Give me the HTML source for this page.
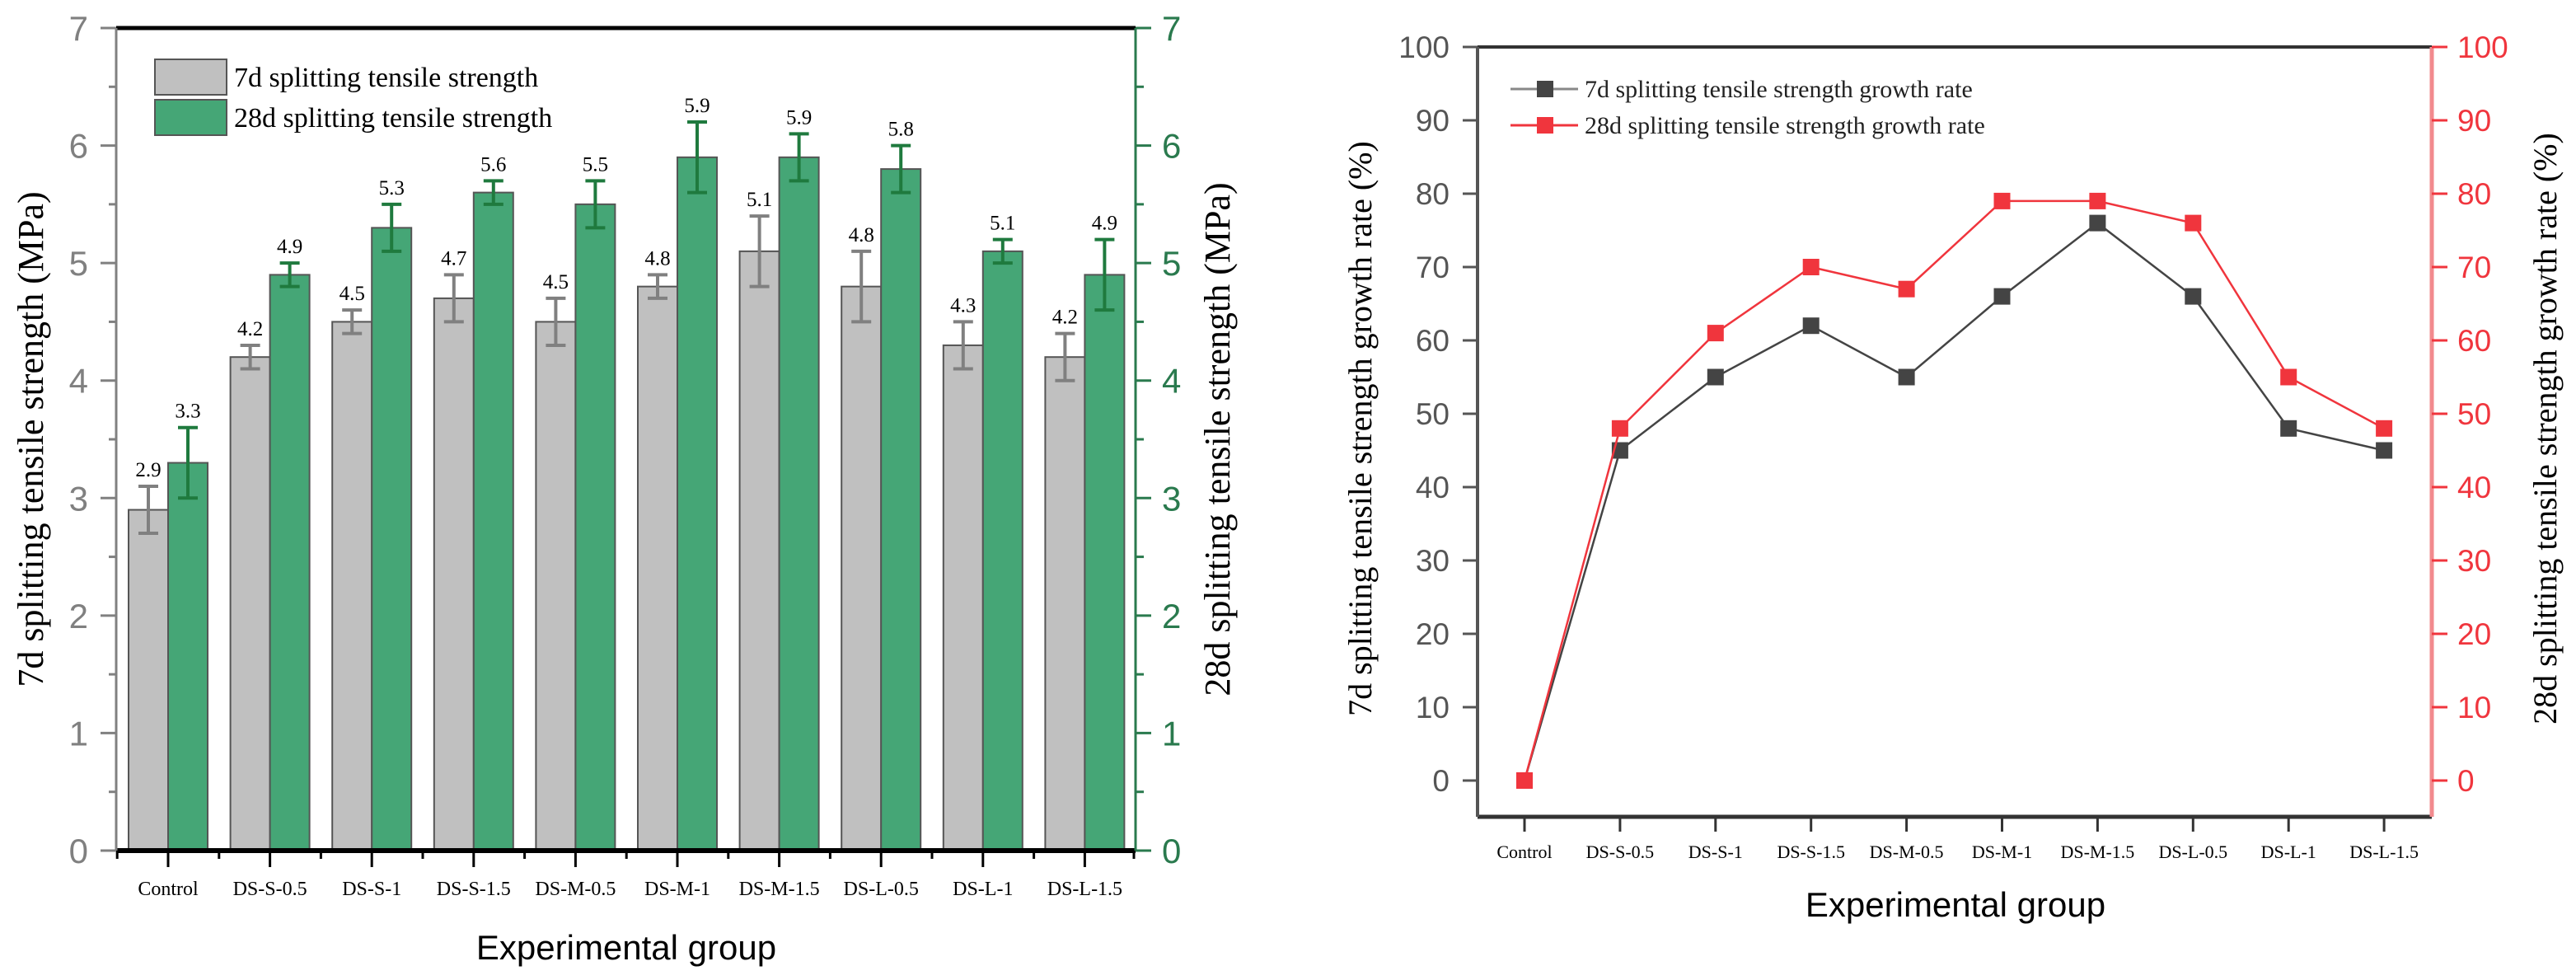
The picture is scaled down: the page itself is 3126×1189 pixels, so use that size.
<!DOCTYPE html>
<html><head><meta charset="utf-8"><style>
body{margin:0;background:#fff;width:3126px;height:1189px;overflow:hidden}
svg{display:block}
.tm{font-family:"Liberation Serif",serif}
.ar{font-family:"Liberation Sans",sans-serif}
</style></head><body>
<svg id="chart" width="3126" height="1189" viewBox="0 0 3126 1189" xmlns="http://www.w3.org/2000/svg">
<g id="left"></g>
<g id="right"></g>
</svg>
<script>
const categories=["Control","DS-S-0.5","DS-S-1","DS-S-1.5","DS-M-0.5","DS-M-1","DS-M-1.5","DS-L-0.5","DS-L-1","DS-L-1.5"];
const strength7=[2.9,4.2,4.5,4.7,4.5,4.8,5.1,4.8,4.3,4.2];
const err7=[0.2,0.1,0.1,0.2,0.2,0.1,0.3,0.3,0.2,0.2];
const strength28=[3.3,4.9,5.3,5.6,5.5,5.9,5.9,5.8,5.1,4.9];
const err28=[0.3,0.1,0.2,0.1,0.2,0.3,0.2,0.2,0.1,0.3];
const leftTicks=[0,1,2,3,4,5,6,7];
const growth7=[0,45,55,62,55,66,76,66,48,45];
const growth28=[0,48,61,70,67,79,79,76,55,48];
const rightTicks=[0,10,20,30,40,50,60,70,80,90,100];

const NS="http://www.w3.org/2000/svg";
function mk(p,t,a,txt){const e=document.createElementNS(NS,t);for(const k in a)e.setAttribute(k,a[k]);if(txt!==undefined)e.textContent=txt;p.appendChild(e);return e;}

// ---------- Left bar chart ----------
const L=document.getElementById('left');
const lx0=141,lx1=1378,ly0=1032,ly1=34;
const ly=v=>ly0-(v/7)*(ly0-ly1);
const step=123.6;
const lcx=i=>204+i*step;
const bw=48;
for(let i=0;i<categories.length;i++){
  const c=lcx(i);
  let r=mk(L,'rect',{x:c-bw,y:ly(strength7[i]),width:bw,height:ly0-ly(strength7[i]),fill:'#c0c0c0',stroke:'#555','stroke-width':2});
  
  
  r=mk(L,'rect',{x:c,y:ly(strength28[i]),width:bw,height:ly0-ly(strength28[i]),fill:'#45a676',stroke:'#555','stroke-width':2});
  
  
  const g7=c-bw/2,g28=c+bw/2;
  [[g7,strength7[i],err7[i],'#808080'],[g28,strength28[i],err28[i],'#1f7a3e']].forEach(([x,v,e,col])=>{
    const eb=mk(L,'path',{d:`M${x},${ly(v+e)}V${ly(v-e)}M${x-12},${ly(v+e)}h24M${x-12},${ly(v-e)}h24`,stroke:col,'stroke-width':4,fill:'none'});
    
    
    const t=mk(L,'text',{x:x,y:ly(v+e)-12,'text-anchor':'middle','font-size':25,class:'tm'},v.toFixed(1));
    
    
  });
  const xl=mk(L,'text',{x:c,y:1086,'text-anchor':'middle','font-size':24,class:'tm'},categories[i]);
  
  
  mk(L,'line',{x1:c,y1:ly0,x2:c,y2:ly0+20,stroke:'#000','stroke-width':3});
  mk(L,'line',{x1:c-step/2,y1:ly0,x2:c-step/2,y2:ly0+10,stroke:'#000','stroke-width':3});
}
mk(L,'line',{x1:lx1-2,y1:ly0,x2:lx1-2,y2:ly0+10,stroke:'#000','stroke-width':3});
mk(L,'line',{x1:lx0,y1:ly1,x2:lx1,y2:ly1,stroke:'#000','stroke-width':5});
mk(L,'line',{x1:lx0,y1:ly0,x2:lx1,y2:ly0,stroke:'#000','stroke-width':6});
mk(L,'line',{x1:lx0,y1:ly1,x2:lx0,y2:ly0,stroke:'#808080','stroke-width':3});
mk(L,'line',{x1:lx1,y1:ly1,x2:lx1,y2:ly0,stroke:'#2a7a4e','stroke-width':3});
leftTicks.forEach(v=>{
  mk(L,'line',{x1:lx0-19,y1:ly(v),x2:lx0,y2:ly(v),stroke:'#808080','stroke-width':3});
  if(v<7)mk(L,'line',{x1:lx0-9,y1:ly(v+0.5),x2:lx0,y2:ly(v+0.5),stroke:'#808080','stroke-width':3});
  mk(L,'line',{x1:lx1,y1:ly(v),x2:lx1+19,y2:ly(v),stroke:'#2a7a4e','stroke-width':3});
  if(v<7)mk(L,'line',{x1:lx1,y1:ly(v+0.5),x2:lx1+10,y2:ly(v+0.5),stroke:'#2a7a4e','stroke-width':3});
  const a=mk(L,'text',{x:107,y:ly(v)+15,'text-anchor':'end','font-size':42,fill:'#808080',class:'ar'},v);
  
  
  const b=mk(L,'text',{x:1410,y:ly(v)+15,'text-anchor':'start','font-size':42,fill:'#2a7a4e',class:'ar'},v);
  
  
});
let t=mk(L,'text',{transform:'translate(52,533) rotate(-90)','text-anchor':'middle','font-size':44,class:'tm'},'7d splitting tensile strength (MPa)');

t=mk(L,'text',{transform:'translate(1492,533) rotate(-90)','text-anchor':'middle','font-size':44,class:'tm'},'28d splitting tensile strength (MPa)');

t=mk(L,'text',{x:760,y:1164,'text-anchor':'middle','font-size':42,class:'ar'},'Experimental group');

let lg=mk(L,'g',{});

mk(lg,'rect',{x:188,y:72,width:87,height:43,fill:'#c0c0c0',stroke:'#555','stroke-width':2});
mk(lg,'rect',{x:188,y:121,width:87,height:43,fill:'#45a676',stroke:'#555','stroke-width':2});
mk(lg,'text',{x:284,y:105,'font-size':34,class:'tm'},'7d splitting tensile strength');
mk(lg,'text',{x:284,y:154,'font-size':34,class:'tm'},'28d splitting tensile strength');

// ---------- Right line chart ----------
const R=document.getElementById('right');
const rx0=1793,rx1=2951,ryTop=57,ryBot=991;
const ry=v=>947-(v/100)*(947-57);
const rcx=i=>1850+i*115.9;
mk(R,'line',{x1:rx0,y1:ryTop,x2:rx1,y2:ryTop,stroke:'#333','stroke-width':4});
mk(R,'line',{x1:rx0,y1:ryBot,x2:rx1,y2:ryBot,stroke:'#333','stroke-width':5});
mk(R,'line',{x1:rx0,y1:ryTop,x2:rx0,y2:ryBot,stroke:'#555','stroke-width':4});
mk(R,'line',{x1:rx1,y1:ryTop,x2:rx1,y2:ryBot,stroke:'#f28a8d','stroke-width':5});
rightTicks.forEach(v=>{
  mk(R,'line',{x1:rx0-18,y1:ry(v),x2:rx0,y2:ry(v),stroke:'#555','stroke-width':3});
  mk(R,'line',{x1:rx1,y1:ry(v),x2:rx1+19,y2:ry(v),stroke:'#f0353d','stroke-width':3});
  let a=mk(R,'text',{x:1759,y:ry(v)+13,'text-anchor':'end','font-size':37,fill:'#555',class:'ar'},v);
  
  a=mk(R,'text',{x:2982,y:ry(v)+13,'text-anchor':'start','font-size':37,fill:'#f0353d',class:'ar'},v);
  
});
categories.forEach((c,i)=>{
  mk(R,'line',{x1:rcx(i),y1:ryBot,x2:rcx(i),y2:ryBot+18,stroke:'#333','stroke-width':3});
  const a=mk(R,'text',{x:rcx(i),y:1041,'text-anchor':'middle','font-size':22,class:'tm'},c);
  
});
function series(vals,col,name){
  const p=mk(R,'polyline',{points:vals.map((v,i)=>rcx(i)+','+ry(v)).join(' '),fill:'none',stroke:col,'stroke-width':2.5});
  
  vals.forEach((v,i)=>{
    const m=mk(R,'rect',{x:rcx(i)-10,y:ry(v)-10,width:20,height:20,fill:col});
    
  });
}
series(growth7,'#444','growth-7d');
series(growth28,'#f0353d','growth-28d');
t=mk(R,'text',{transform:'translate(1664,520) rotate(-90)','text-anchor':'middle','font-size':40,class:'tm'},'7d splitting tensile strength growth rate (%)');

t=mk(R,'text',{transform:'translate(3102,520) rotate(-90)','text-anchor':'middle','font-size':40,class:'tm'},'28d splitting tensile strength growth rate (%)');

t=mk(R,'text',{x:2373,y:1112,'text-anchor':'middle','font-size':42,class:'ar'},'Experimental group');

lg=mk(R,'g',{});

mk(lg,'line',{x1:1833,y1:108,x2:1915,y2:108,stroke:'#888','stroke-width':3});
mk(lg,'rect',{x:1865,y:98,width:20,height:20,fill:'#444'});
mk(lg,'line',{x1:1833,y1:152,x2:1915,y2:152,stroke:'#f0353d','stroke-width':3});
mk(lg,'rect',{x:1865,y:142,width:20,height:20,fill:'#f0353d'});
mk(lg,'text',{x:1923,y:118,'font-size':30,fill:'#222',class:'tm'},'7d splitting tensile strength growth rate');
mk(lg,'text',{x:1923,y:162,'font-size':30,fill:'#222',class:'tm'},'28d splitting tensile strength growth rate');
</script>
</body></html>
